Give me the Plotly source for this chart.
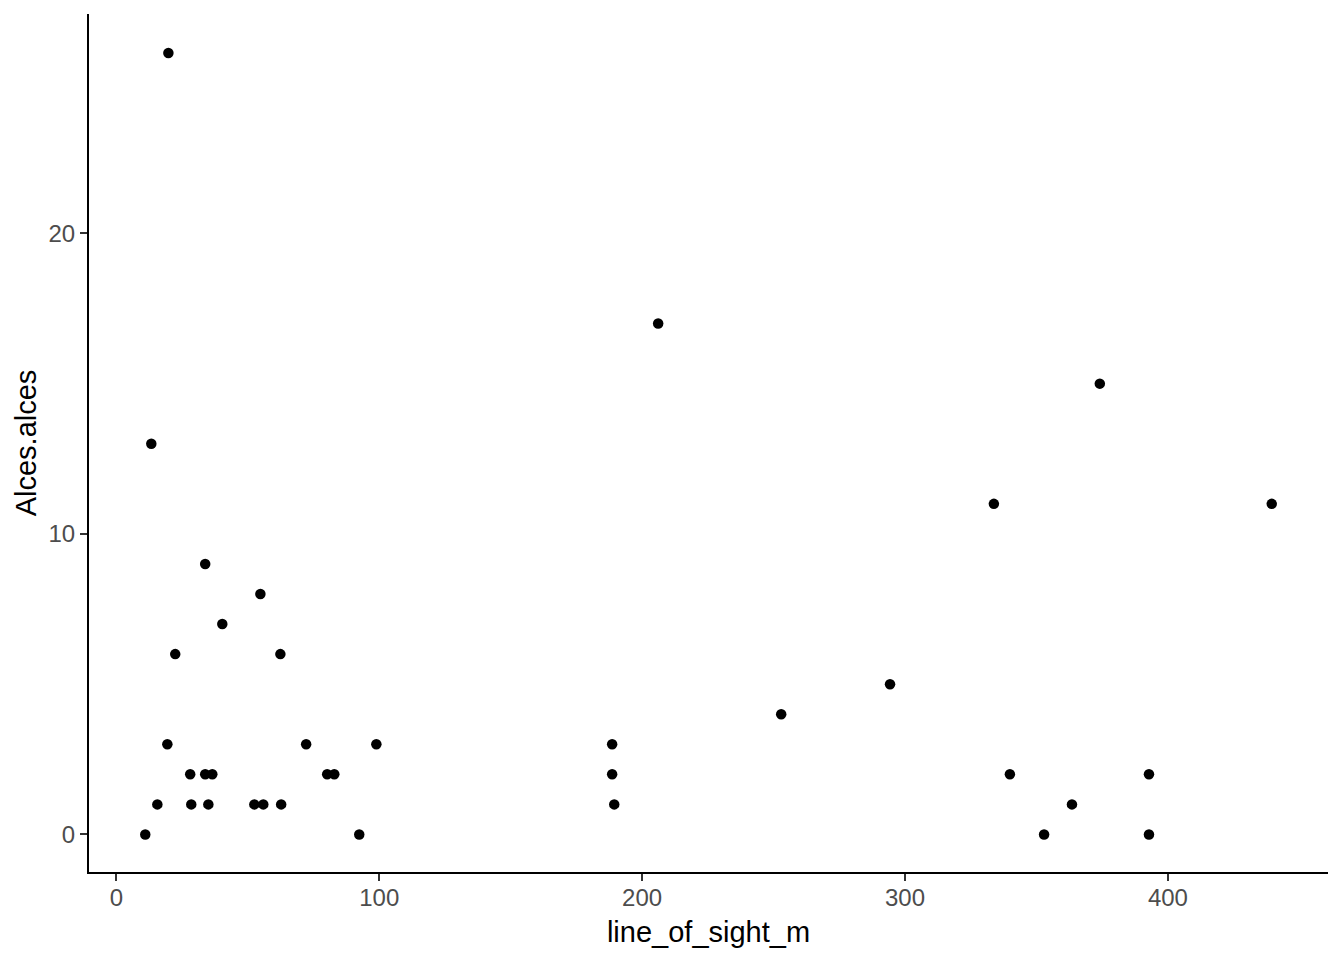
import plotly.graph_objects as go

line_of_sight_m = [19.8, 13.3, 11.0, 15.6, 19.4, 22.4, 28.1, 28.5, 33.8, 33.8, 35.0, 36.5,
                   40.3, 52.5, 54.8, 55.9, 62.4, 62.7, 72.2, 80.2, 82.9, 92.4, 98.9,
                   188.6, 188.6, 189.4, 206.1, 252.9, 294.3, 333.8, 339.9, 352.9, 363.5,
                   374.1, 392.8, 392.8, 439.5]
alces_alces = [26, 13, 0, 1, 3, 6, 2, 1, 9, 2, 1, 2,
               7, 1, 8, 1, 6, 1, 3, 2, 2, 0, 3,
               3, 2, 1, 17, 4, 5, 11, 2, 0, 1,
               15, 2, 0, 11]

x_ticks = [0, 100, 200, 300, 400]
y_ticks = [0, 10, 20]

fig = go.Figure(go.Scatter(
    x=line_of_sight_m, y=alces_alces, mode="markers",
    marker=dict(color="black", size=10.5, line=dict(width=0)),
    showlegend=False, hoverinfo="x+y",
))

font_family = "Liberation Sans, Arial, sans-serif"
axis_common = dict(
    showgrid=False, zeroline=False, showline=True, linecolor="black", linewidth=2,
    ticks="outside", ticklen=7, tickwidth=2, tickcolor="#333333",
    tickfont=dict(family=font_family, size=24, color="#4d4d4d"),
    automargin=False,
)

fig.update_layout(
    width=1336, height=952,
    paper_bgcolor="white", plot_bgcolor="white",
    margin=dict(l=81, r=16, t=6, b=88),
    font=dict(family=font_family),
    xaxis=dict(range=[-10.4, 460.9], tickvals=x_ticks, ticklabelstandoff=-4, **axis_common,
               title=dict(text="line_of_sight_m", font=dict(size=29, color="black"), standoff=12)),
    yaxis=dict(range=[-1.25, 27.3], tickvals=y_ticks, **axis_common,
               title=dict(text="Alces.alces", font=dict(size=29, color="black"), standoff=3)),
)

fig.write_html("out.html")
